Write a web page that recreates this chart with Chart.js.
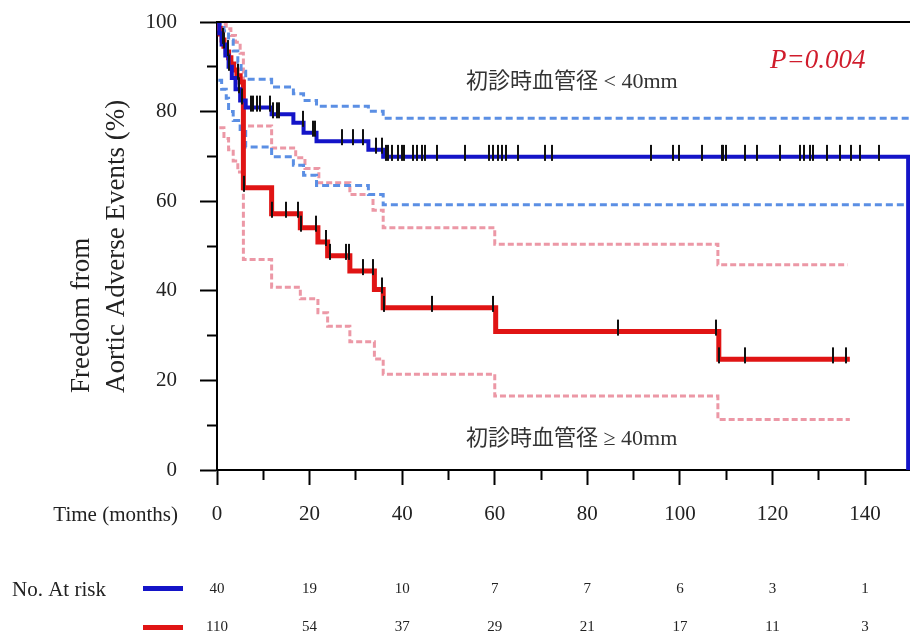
<!DOCTYPE html>
<html><head><meta charset="utf-8">
<script src="https://cdn.jsdelivr.net/npm/chart.js@4.4.1/dist/chart.umd.min.js"></script>
<style>html,body{margin:0;padding:0;background:#fff;}canvas{display:block;}</style>
</head><body>
<canvas id="c" width="910" height="642"></canvas>
<script>
// ---- Data ----
// Group < 40mm (blue) Kaplan-Meier steps: time (months) and survival (%)
const blueTimes = [0, 0.5, 1.0, 1.8, 2.5, 3.2, 4.0, 5.0, 6.2, 11.8, 16.5, 18.7, 21.5, 32.7, 35.9, 149.3];
const blueSurv  = [100, 97.5, 95, 92.5, 90, 87.5, 85, 82.5, 80.9, 79.4, 77.5, 75.3, 73.4, 71.5, 69.9, 0];
const blueUpTimes = [0, 0.5, 1.5, 2.5, 3.5, 4.5, 5.2, 6.2, 11.8, 16.5, 18.7, 21.5, 32.7, 35.9, 149.7];
const blueUpVals  = [100, 99.5, 98, 96, 93.5, 91, 89, 87.2, 85.5, 84, 82.5, 81.2, 80.1, 78.5, 78.5];
const blueLoTimes = [0.3, 1.0, 2.0, 2.5, 3.5, 5.0, 6.2, 11.8, 16.5, 18.7, 21.5, 32.7, 35.9, 149.7];
const blueLoVals  = [87, 85, 83, 80, 78, 76, 72.1, 69.9, 68, 65.8, 63.5, 61.5, 59.2, 59.2];
const blueCensor = [1.5, 2.6, 4.8, 5.5, 7.4, 7.8, 8.6, 9.3, 11.4, 12.2, 12.9, 13.5, 18.6, 20.8, 21.2,
  26.9, 29.4, 31.6, 34.3, 35.6, 36.5, 37.0, 37.7, 39.0, 39.9, 40.4, 42.4, 43.3, 44.2, 44.9, 47.5,
  53.6, 58.8, 59.7, 60.6, 61.5, 62.4, 65.1, 70.9, 72.3, 93.8, 98.6, 99.7, 104.7, 109.0, 109.4, 110.0,
  114.1, 116.6, 121.6, 125.9, 126.7, 128.1, 128.7, 131.7, 134.6, 136.9, 138.9, 142.9];

// Group >= 40mm (red)
const redTimes = [0, 0.3, 0.7, 1.1, 1.5, 2.0, 2.5, 3.0, 3.6, 4.3, 5.0, 5.7, 11.8, 18.0, 21.8, 23.9, 28.7, 34.0, 35.9, 60.2, 108.4, 136.7];
const redSurv  = [100, 98.6, 97.3, 96.0, 94.6, 93.3, 92.0, 90.6, 89.3, 88.0, 86.6, 63.0, 57.2, 54.1, 50.9, 47.8, 44.4, 40.3, 36.2, 30.9, 24.7, 24.7];
const redUpTimes = [0, 1, 2, 3, 4, 5, 5.7, 11.8, 17.0, 19.0, 22.0, 28.7, 33.7, 35.9, 60.0, 108.2, 136.2];
const redUpVals  = [100, 99.5, 98.5, 97, 95.5, 93, 76.8, 71.9, 69.7, 67.3, 64.1, 61.5, 58, 54.1, 50.4, 45.8, 45.8];
const redLoTimes = [0.5, 1.5, 2.5, 3.5, 4.5, 5.7, 11.8, 18.0, 21.8, 23.9, 28.7, 34.0, 35.9, 60.0, 108.2, 136.7];
const redLoVals  = [76.4, 74, 71.5, 69, 66.5, 47.0, 40.8, 38.2, 35.1, 32.1, 28.6, 24.8, 21.4, 16.5, 11.3, 11.3];
const redCensor = [1.2, 2.4, 4.5, 5.8, 11.8, 14.9, 17.6, 18.1, 21.4, 23.5, 24.4, 27.9, 28.5, 31.6, 33.8, 35.6, 36.0,
  46.5, 59.7, 86.7, 107.9, 108.5, 114.1, 133.1, 135.8];

// Number at risk table
const riskTimes = [0, 20, 40, 60, 80, 100, 120, 140];
const riskBlue  = [40, 19, 10, 7, 7, 6, 3, 1];
const riskRed   = [110, 54, 37, 29, 21, 17, 11, 3];

// Texts
const yTitle = ['Freedom from', 'Aortic Adverse Events (%)'];
const xTitle = 'Time (months)';
const labelSmall = '初診時血管径 < 40mm';
const labelLarge = '初診時血管径 ≥ 40mm';
const pText = 'P=0.004';
const riskTitle = 'No. At risk';

// ---- helpers ----
function pts(ts, vs){ return ts.map((t,i)=>({x:t, y:vs[i]})); }
function levelAt(ts, vs, t){ let v = vs[0]; for (let i=0;i<ts.length;i++){ if (ts[i] <= t) v = vs[i]; } return v; }

const censorMark = (function(){
  const c = document.createElement('canvas'); c.width = 2; c.height = 32;
  const g = c.getContext('2d'); g.fillStyle = '#111'; g.fillRect(0, 4, 2, 16); return c;
})();

const BLUE = '#1414c8', RED = '#e01414', BLUECI = '#5b8fe4', REDCI = '#ec98a6';
const SERIF = '"Liberation Serif", "Times New Roman", serif';

const deco = {
  id: 'deco',
  afterDraw(chart){
    const {ctx, chartArea:a, scales:{x}} = chart;
    ctx.save();
    ctx.strokeStyle = '#000'; ctx.lineWidth = 2;
    ctx.beginPath(); ctx.moveTo(a.left, a.top); ctx.lineTo(a.right, a.top); ctx.stroke();

    // y-axis title (two lines, start-aligned)
    ctx.save();
    ctx.fillStyle = '#222'; ctx.font = '27px ' + SERIF;
    ctx.translate(82, 393); ctx.rotate(-Math.PI/2);
    ctx.textAlign = 'left'; ctx.textBaseline = 'middle';
    ctx.fillText(yTitle[0], 0, 0);
    ctx.fillText(yTitle[1], 0, 35);
    ctx.restore();

    // x title
    ctx.fillStyle = '#222'; ctx.font = '21px ' + SERIF;
    ctx.textAlign = 'right'; ctx.textBaseline = 'middle';
    ctx.fillText(xTitle, 178, 515);

    // annotations
    ctx.textAlign = 'left'; ctx.textBaseline = 'alphabetic';
    ctx.font = '22px ' + SERIF + ', "Noto Sans CJK JP"';
    ctx.fillStyle = '#333';
    ctx.fillText(labelSmall, 466, 88);
    ctx.fillText(labelLarge, 466, 445);
    ctx.font = 'italic 27px ' + SERIF;
    ctx.fillStyle = '#d01c2c';
    ctx.fillText(pText, 770, 68);

    // risk table
    ctx.fillStyle = '#222'; ctx.font = '21px ' + SERIF;
    ctx.textAlign = 'left'; ctx.textBaseline = 'middle';
    ctx.fillText(riskTitle, 12, 590);
    ctx.fillStyle = BLUE; ctx.fillRect(143, 586, 40, 5);
    ctx.fillStyle = RED; ctx.fillRect(143, 625, 40, 5);
    ctx.fillStyle = '#222'; ctx.font = '15px ' + SERIF; ctx.textAlign = 'center';
    riskTimes.forEach((t,i)=>{
      const px = x.getPixelForValue(t);
      ctx.fillText(String(riskBlue[i]), px, 589);
      ctx.fillText(String(riskRed[i]), px, 627);
    });
    ctx.restore();
  }
};

const lineDs = (label, data, color, width, dash, order) => ({
  label, data, borderColor: color, borderWidth: width, borderDash: dash,
  stepped: 'before', pointRadius: 0, fill: false, order, borderCapStyle: 'butt'
});
const censorDs = (label, times, ts, vs) => ({
  label, data: times.map(t=>({x:t, y:levelAt(ts, vs, t)})), showLine: false,
  pointStyle: censorMark, pointRadius: 8, order: 0
});

new Chart(document.getElementById('c'), {
  type: 'line',
  data: {
    datasets: [
      censorDs('blue censored', blueCensor, blueTimes, blueSurv),
      censorDs('red censored', redCensor, redTimes, redSurv),
      lineDs('< 40mm', pts(blueTimes, blueSurv), BLUE, 4, [], 1),
      lineDs('>= 40mm', pts(redTimes, redSurv), RED, 5, [], 1),
      lineDs('< 40mm upper', pts(blueUpTimes, blueUpVals), BLUECI, 3, [7,4], 2),
      lineDs('< 40mm lower', pts(blueLoTimes, blueLoVals), BLUECI, 3, [7,4], 2),
      lineDs('>= 40mm upper', pts(redUpTimes, redUpVals), REDCI, 3, [6,3], 2),
      lineDs('>= 40mm lower', pts(redLoTimes, redLoVals), REDCI, 3, [6,3], 2)
    ]
  },
  options: {
    responsive: false, animation: false,
    layout: { autoPadding: false, padding: { top: 22, right: 0, left: 0, bottom: 0 } },
    plugins: { legend: { display: false }, tooltip: { enabled: false } },
    scales: {
      x: {
        type: 'linear', min: 0, max: 149.7,
        border: { display: true, color: '#000', width: 2 },
        grid: { drawOnChartArea: false, drawTicks: true, tickLength: 15, tickWidth: 2, tickColor: '#000',
                tickBorderDash: (ctx) => (ctx.tick && ctx.tick.value % 20 !== 0) ? [9, 40] : [] },
        ticks: { stepSize: 10, autoSkip: false, maxRotation: 0, includeBounds: false, padding: 17,
                 color: '#222', font: { family: SERIF, size: 21 },
                 callback: (v) => (v % 20 === 0 ? String(v) : '') },
        afterFit: (s) => { s.height = 172; s.paddingLeft = 0; s.paddingRight = 0; }
      },
      y: {
        min: 0, max: 100,
        border: { display: true, color: '#000', width: 2 },
        grid: { drawOnChartArea: false, drawTicks: true, tickLength: 17, tickWidth: 2, tickColor: '#000',
                tickBorderDash: (ctx) => (ctx.tick && ctx.tick.value % 20 !== 0) ? [0, 7, 14, 0] : [] },
        ticks: { stepSize: 10, autoSkip: false, padding: 23, color: '#222', font: { family: SERIF, size: 21 },
                 callback: (v) => (v % 20 === 0 ? String(v) : '') },
        afterFit: (s) => { s.width = 217; s.paddingTop = 0; s.paddingBottom = 0; }
      }
    }
  },
  plugins: [deco]
});
</script>
</body></html>
